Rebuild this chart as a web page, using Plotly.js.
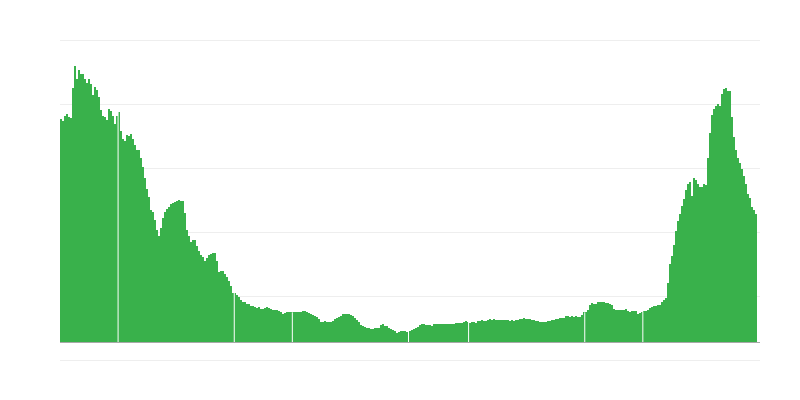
<!DOCTYPE html>
<html>
<head>
<meta charset="utf-8">
<script src="https://cdn.plot.ly/plotly-3.0.1.min.js"></script>
<style>
  html, body { margin: 0; padding: 0; background: #fff; }
  #graphDiv { width: 800px; height: 400px; }
</style>
</head>
<body>
<div id="graphDiv"></div>
<script>
// daily counts (no labels in the original)
const firstWave = [
  6690, 6620, 6790, 6850, 6750, 6720, 7620, 8290, 7890, 8170,
  8050, 8050, 7890, 7770, 7890, 7740, 7420, 7650, 7570, 7340,
  6970, 6770, 6750, 6650, 7000, 6940, 6770, 6550, 6790,
  6910, 6320, 6090, 6040, 6210, 6170, 6250, 6090, 5920, 5770,
  5770, 5520, 5260, 4920, 4590, 4350, 3970, 3890, 3650, 3370,
  3190, 3410, 3720, 3890, 3990, 4050, 4140, 4160, 4200, 4230, 4260,
  4230, 4240, 3870, 3370, 3170, 2990, 3050, 3070, 2890, 2720,
  2620, 2540, 2420, 2520, 2620, 2650, 2670, 2670, 2440, 2090,
  2140, 2140, 2040, 1950, 1820, 1690, 1470, 1470, 1400, 1340,
  1270, 1210, 1210, 1130, 1130, 1090, 1070, 1050, 1020, 1050
]
const summerLull = [
  990, 990, 1010, 1040, 1020, 980, 950, 950, 960, 930,
  900, 840, 860, 890, 890, 890, 890, 890, 890, 890,
  910, 920, 920, 900, 880, 840, 800, 780, 740, 680,
  610, 590, 620, 600, 600, 610, 640, 680, 710, 740,
  790, 830, 850, 850, 830, 820, 780, 730, 660, 590,
  520, 480, 450, 420, 410, 400, 400, 410, 410, 430,
  500, 530, 480, 470, 430, 400, 370, 320, 280, 300,
  320, 330, 320, 300, 330,
  360, 390, 420, 460, 510, 540, 530, 520, 500, 500,
  490, 530, 540, 540, 540, 540, 540, 540, 530, 540,
  540, 550, 560, 560, 570, 580, 600, 620, 610, 580,
  590, 590, 580, 620, 640, 650, 640, 630, 660, 680,
  670, 680, 660, 650, 650, 650, 660, 650, 650, 640,
  650, 640, 660, 670, 680, 700, 710, 690, 680, 680,
  660, 650, 630, 620, 600, 590, 590, 610, 630, 640,
  650, 670, 680, 690, 720, 720, 720
]
const secondWave = [
  770, 770, 750, 770, 740, 770, 740, 740, 800, 890,
  890, 950, 1110, 1170, 1150, 1150, 1200, 1200, 1190, 1200,
  1170, 1170, 1140, 1110, 990, 950, 970, 970, 970, 970,
  990, 940, 890, 940, 940, 940, 850, 870, 910, 920,
  920, 950, 1010, 1040, 1090, 1080, 1100, 1110, 1210, 1250,
  1330, 1770, 2350, 2590, 2900, 3340, 3620, 3840, 4070, 4290,
  4550, 4750, 4800, 4370, 4930, 4870, 4750, 4650, 4640, 4750,
  4710, 5530, 6270, 6820, 6990, 7070, 7150, 7070, 7440, 7590,
  7620, 7520, 7520, 6750, 6140, 5760, 5520, 5370, 5190, 4990,
  4750, 4450, 4320, 4050, 3970, 3850
]

// thin white breaks seen between some bars
const gapAfterDay = [29, 87, 116, 174, 204, 262, 291]

const cases = [...firstWave, ...summerLull, ...secondWave]
const days = cases.map((_, i) => i + 1)

// hidden value axis: gridlines only
const yMin = -540
const yStep = 1920
const yTicks = [0, 1, 2, 3, 4, 5].map(k => yMin + k * yStep)
const yPad = 60  // ~2px, plotly drops gridlines sitting on the plot edge

let traceCases = {
    x: days,
    y: cases,
    type: 'bar',
    marker: { color: '#39b14b', line: { width: 0 } },
    hoverinfo: 'skip'
}

let gapLines = gapAfterDay.map(d => ({
    type: 'line',
    xref: 'x', yref: 'y',
    x0: d + 0.5, x1: d + 0.5,
    y0: 0, y1: Math.max(cases[d - 1], cases[d]),
    line: { color: '#ffffff', width: 1 },
    layer: 'above'
}))

const layout = {
    width: 800,
    height: 400,
    margin: { l: 60, r: 40, t: 38, b: 38 },
    paper_bgcolor: '#ffffff',
    plot_bgcolor: '#ffffff',
    bargap: 0,
    showlegend: false,
    shapes: gapLines,
    xaxis: {
        range: [0.5, 350],
        showgrid: false,
        showticklabels: false,
        ticks: '',
        zeroline: false,
        showline: false
    },
    yaxis: {
        range: [yTicks[0] - yPad, yTicks[5] + yPad],
        tickvals: yTicks,
        showticklabels: false,
        ticks: '',
        showgrid: true,
        gridcolor: '#eeeeee',
        gridwidth: 1,
        zeroline: true,
        zerolinecolor: '#a8a8a8',
        zerolinewidth: 1,
        showline: false
    }
}

Plotly.newPlot('graphDiv', [traceCases], layout, { displayModeBar: false, staticPlot: true })
</script>
</body>
</html>
